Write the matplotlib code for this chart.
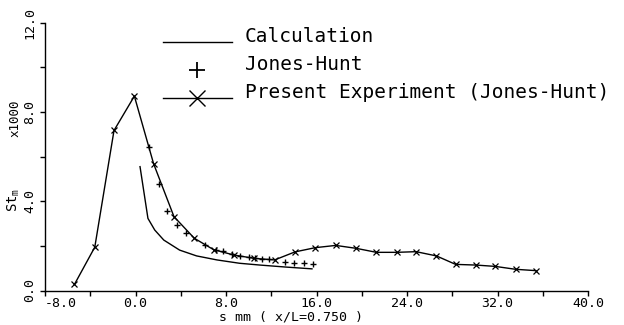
import numpy as np
import matplotlib.pyplot as plt
from matplotlib.lines import Line2D

plt.rcParams['font.family'] = 'DejaVu Sans Mono'
plt.rcParams['mathtext.fontset'] = 'custom'
plt.rcParams['mathtext.rm'] = 'DejaVu Sans Mono'
plt.rcParams['mathtext.it'] = 'DejaVu Sans Mono'

# Calculation (solid line)
calc_x = [0.4, 1.1, 1.7, 2.5, 3.9, 5.4, 7.2, 9.2, 11.0, 13.3, 15.6]
calc_y = [5.55, 3.23, 2.71, 2.26, 1.81, 1.55, 1.37, 1.22, 1.14, 1.05, 0.97]

# Jones-Hunt (+ markers)
jh_x = [1.2, 2.1, 2.8, 3.65, 4.5, 6.15, 7.1, 7.7, 8.5, 9.25, 10.0, 10.6,
        11.2, 11.8, 13.2, 14.0, 14.9, 15.7]
jh_y = [6.44, 4.76, 3.58, 2.93, 2.56, 2.04, 1.81, 1.77, 1.62, 1.55, 1.51, 1.44,
        1.42, 1.40, 1.27, 1.25, 1.22, 1.18]

# Present experiment (line with x markers)
exp_x = [-5.4, -3.6, -1.9, -0.1, 1.6, 3.4, 5.2, 6.9, 8.7, 10.5, 12.3, 14.1,
         15.9, 17.7, 19.5, 21.3, 23.1, 24.8, 26.6, 28.3, 30.1, 31.8, 33.6, 35.4]
exp_y = [0.27, 1.94, 7.17, 8.71, 5.68, 3.31, 2.34, 1.83, 1.59, 1.44, 1.37, 1.73,
         1.92, 2.02, 1.89, 1.71, 1.71, 1.74, 1.55, 1.17, 1.14, 1.08, 0.95, 0.89]

xticks = [-8, -4, 0, 4, 8, 12, 16, 20, 24, 28, 32, 36, 40]
xticklabels = ['-8.0', '', '0.0', '', '8.0', '', '16.0', '', '24.0', '', '32.0', '', '40.0']
yticks = [0, 2, 4, 6, 8, 10, 12]
yticklabels = ['0.0', '', '4.0', '', '8.0', '', '12.0']

W, H = 624, 325
fig = plt.figure(figsize=(W / 100, H / 100), dpi=100)
ax = fig.add_axes([45 / W, 1 - 290.5 / H, 543 / W, 267.8 / H])

ax.plot(calc_x, calc_y, color='black', lw=1.0)
ax.plot(jh_x, jh_y, ls='none', marker='+', ms=5, mew=1.0, color='black')
ax.plot(exp_x, exp_y, color='black', lw=1.0, marker='x', ms=4.5, mew=0.9)

ax.set_xlim(-8, 40)
ax.set_ylim(0, 12)
ax.spines['top'].set_visible(False)
ax.spines['right'].set_visible(False)
ax.spines['left'].set_linewidth(1.0)
ax.spines['bottom'].set_linewidth(1.0)

ax.set_xticks(xticks)
ax.set_xticklabels(xticklabels, fontsize=9.5)
ax.xaxis.get_ticklabels()[0].set_horizontalalignment('left')
ax.set_yticks(yticks)
ax.set_yticklabels(yticklabels, fontsize=9.5, rotation=90, va='center')
ax.tick_params(axis='both', direction='out', length=3.5, width=1.0)
ax.tick_params(axis='x', pad=1.0)
ax.tick_params(axis='y', pad=3.0)

# axis labels
fig.text(291 / W, 1 - 317 / H, 's mm ( x/L=0.750 )', fontsize=9.5,
         ha='center', va='center')
fig.text(14 / W, 1 - 200 / H, 'St$_m$', fontsize=10, rotation=90,
         ha='center', va='center')
fig.text(15 / W, 1 - 118 / H, 'x1000', fontsize=9, rotation=90,
         ha='center', va='center')

# legend drawn by hand
legend_rows = [
    ('Calculation', 42, dict(ls='-', marker=None)),
    ('Jones-Hunt', 70, dict(ls='none', marker='+', ms=11, mew=1.3)),
    ('Present Experiment (Jones-Hunt)', 98, dict(ls='-', marker='x', ms=12, mew=1.0)),
]
for label, py, style in legend_rows:
    yf = 1 - py / H
    if style['ls'] == 'none':
        ln = Line2D([197 / W], [yf], transform=fig.transFigure, color='black',
                    **style)
    else:
        ln = Line2D([163 / W, 197 / W, 232 / W], [yf, yf, yf],
                    transform=fig.transFigure, color='black', lw=1.0,
                    markevery=[1] if style['marker'] else None, **style)
    fig.add_artist(ln)
    fig.text(245 / W, 1 - (py + 0.5) / H, label, fontsize=14,
             ha='left', va='baseline')

fig.savefig('out.png', dpi=100)
